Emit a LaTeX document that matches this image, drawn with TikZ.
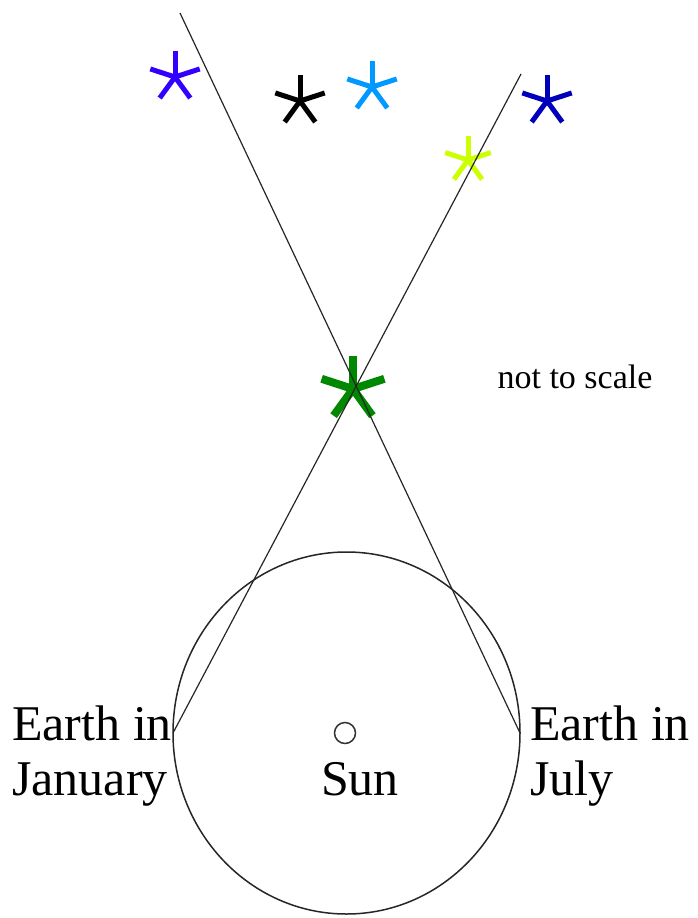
\documentclass[tikz,border=0pt]{standalone}
\usepackage{fontspec}
\setmainfont{Liberation Serif}
\definecolor{sviolet}{HTML}{3300FF}
\definecolor{slight}{HTML}{0099FF}
\definecolor{sdark}{HTML}{0000BB}
\definecolor{syellow}{HTML}{CCFF00}
\definecolor{sgreen}{HTML}{008800}
\usetikzlibrary{positioning}

\begin{document}
\begin{tikzpicture}[x=1pt,y=-1pt,
  lbl/.style={font=\fontsize{50}{55}\selectfont,align=left,inner sep=0pt},
  sight/.style={draw=black!85,line width=1.2pt},
  orbit/.style={draw=black!85,line width=1.5pt},
  pics/ast/.style 2 args={code={\foreach \a in {90,18,162,234,306} \draw[#1] (0,0) -- (\a:#2pt);}}]
\useasboundingbox (0,0) rectangle (698,918);
% background stars and the near star
\coordinate (sv) at (175,77);
\coordinate (sk) at (300,101);
\coordinate (sl) at (372,87);
\coordinate (sd) at (547,101);
\coordinate (sy) at (468,160);
\coordinate (sg) at (353,389);
\pic at (sv) {ast={draw=sviolet,line width=5pt}{26}};
\pic at (sk) {ast={draw=black,line width=5pt}{26}};
\pic at (sl) {ast={draw=slight,line width=5pt}{26}};
\pic at (sd) {ast={draw=sdark,line width=5pt}{26}};
\pic at (sy) {ast={draw=syellow,line width=5pt}{24}};
\pic at (sg) {ast={draw=sgreen,line width=8pt}{33}};
% orbit and sun
\draw[orbit] (346.5,733) ellipse [x radius=173.5pt, y radius=181pt];
\node[circle,draw=black!80,line width=1.5pt,minimum size=21pt,inner sep=0pt] (sun) at (345,733) {};
\node[lbl,anchor=base] (sunl) at (360,795) {Sun};
% earth positions and lines of sight
\coordinate (jan) at (173,733);
\coordinate (jul) at (520,733);
\coordinate (farA) at (180,13);
\coordinate (farB) at (521,74);
\draw[sight] (jul) -- (farA);
\draw[sight] (jan) -- (farB);
\node[lbl,anchor=north west] (janl) at (12,706) {Earth in\\January};
\node[lbl,anchor=north west] (jull) at (530,706) {Earth in\\July};
\node[font=\fontsize{34}{40}\selectfont,anchor=base,inner sep=0pt] (nts) at (575,388) {not to scale};
\end{tikzpicture}
\end{document}
